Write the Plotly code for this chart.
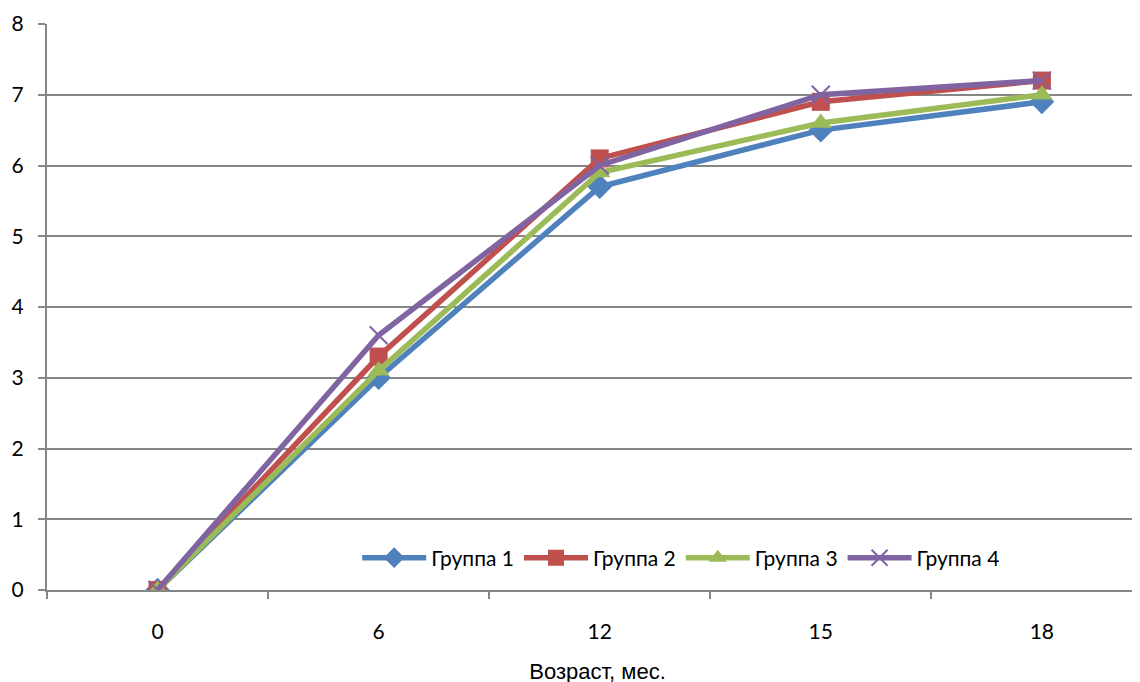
"""
Динамика показателя по группам в зависимости от возраста.
"""

# imports
from plotly.graph_objects import Scatter, Figure

# данные
age = ["0", "6", "12", "15", "18"]
groups = ["Группа 1", "Группа 2", "Группа 3", "Группа 4"]
group1 = [0, 3.0, 5.7, 6.5, 6.9]
group2 = [0, 3.3, 6.1, 6.9, 7.2]
group3 = [0, 3.1, 5.9, 6.6, 7.0]
group4 = [0, 3.6, 6.0, 7.0, 7.2]

colors = ["#4F81BD", "#C0504D", "#9BBB59", "#8064A2"]
symbols = ["diamond", "square", "triangle-up", "x-thin"]
sizes = [19, 18, 19, 18]

FONT = "Lato, 'Open Sans', sans-serif"


def main():
    fig = Figure()
    for name, vals, col, sym, sz in zip(groups, [group1, group2, group3, group4],
                                        colors, symbols, sizes):
        marker = dict(symbol=sym, size=sz, color=col)
        if sym == "x-thin":
            marker["line"] = dict(color=col, width=2)
        fig.add_trace(Scatter(x=age, y=vals, name=name, mode="lines+markers",
                              line=dict(color=col, width=5.5), marker=marker))

    # страница имеет отступ 8px, поэтому поля чуть меньше
    fig.update_layout(
        width=1140, height=682,
        margin=dict(l=39, r=0, t=16, b=100),
        plot_bgcolor="white", paper_bgcolor="white",
        font=dict(family=FONT, size=21, color="black"),
        showlegend=True,
        legend=dict(orientation="h", x=0.576, xanchor="center", y=0.0565,
                    yanchor="middle", font=dict(size=21),
                    bgcolor="rgba(0,0,0,0)", itemwidth=64),
        xaxis=dict(
            type="category", range=[-0.5, 4.48], automargin=False,
            showline=True, linecolor="#868686", linewidth=2,
            ticks="outside", tickson="boundaries", ticklen=7,
            tickcolor="#868686", tickwidth=2, ticklabelstandoff=22,
            showgrid=False, zeroline=False,
            title=dict(text="Возраст, мес.", standoff=21,
                       font=dict(family="'Liberation Sans', Arial", size=22)),
        ),
        yaxis=dict(
            range=[0, 8], dtick=1, automargin=False,
            showline=True, linecolor="#868686", linewidth=2,
            ticks="outside", ticklen=7, tickcolor="#868686", tickwidth=2,
            showgrid=True, gridcolor="#868686", gridwidth=2,
            zeroline=False, ticklabelstandoff=10,
        ),
    )
    fig.write_html("out.html")


if __name__ == "__main__":
    main()
